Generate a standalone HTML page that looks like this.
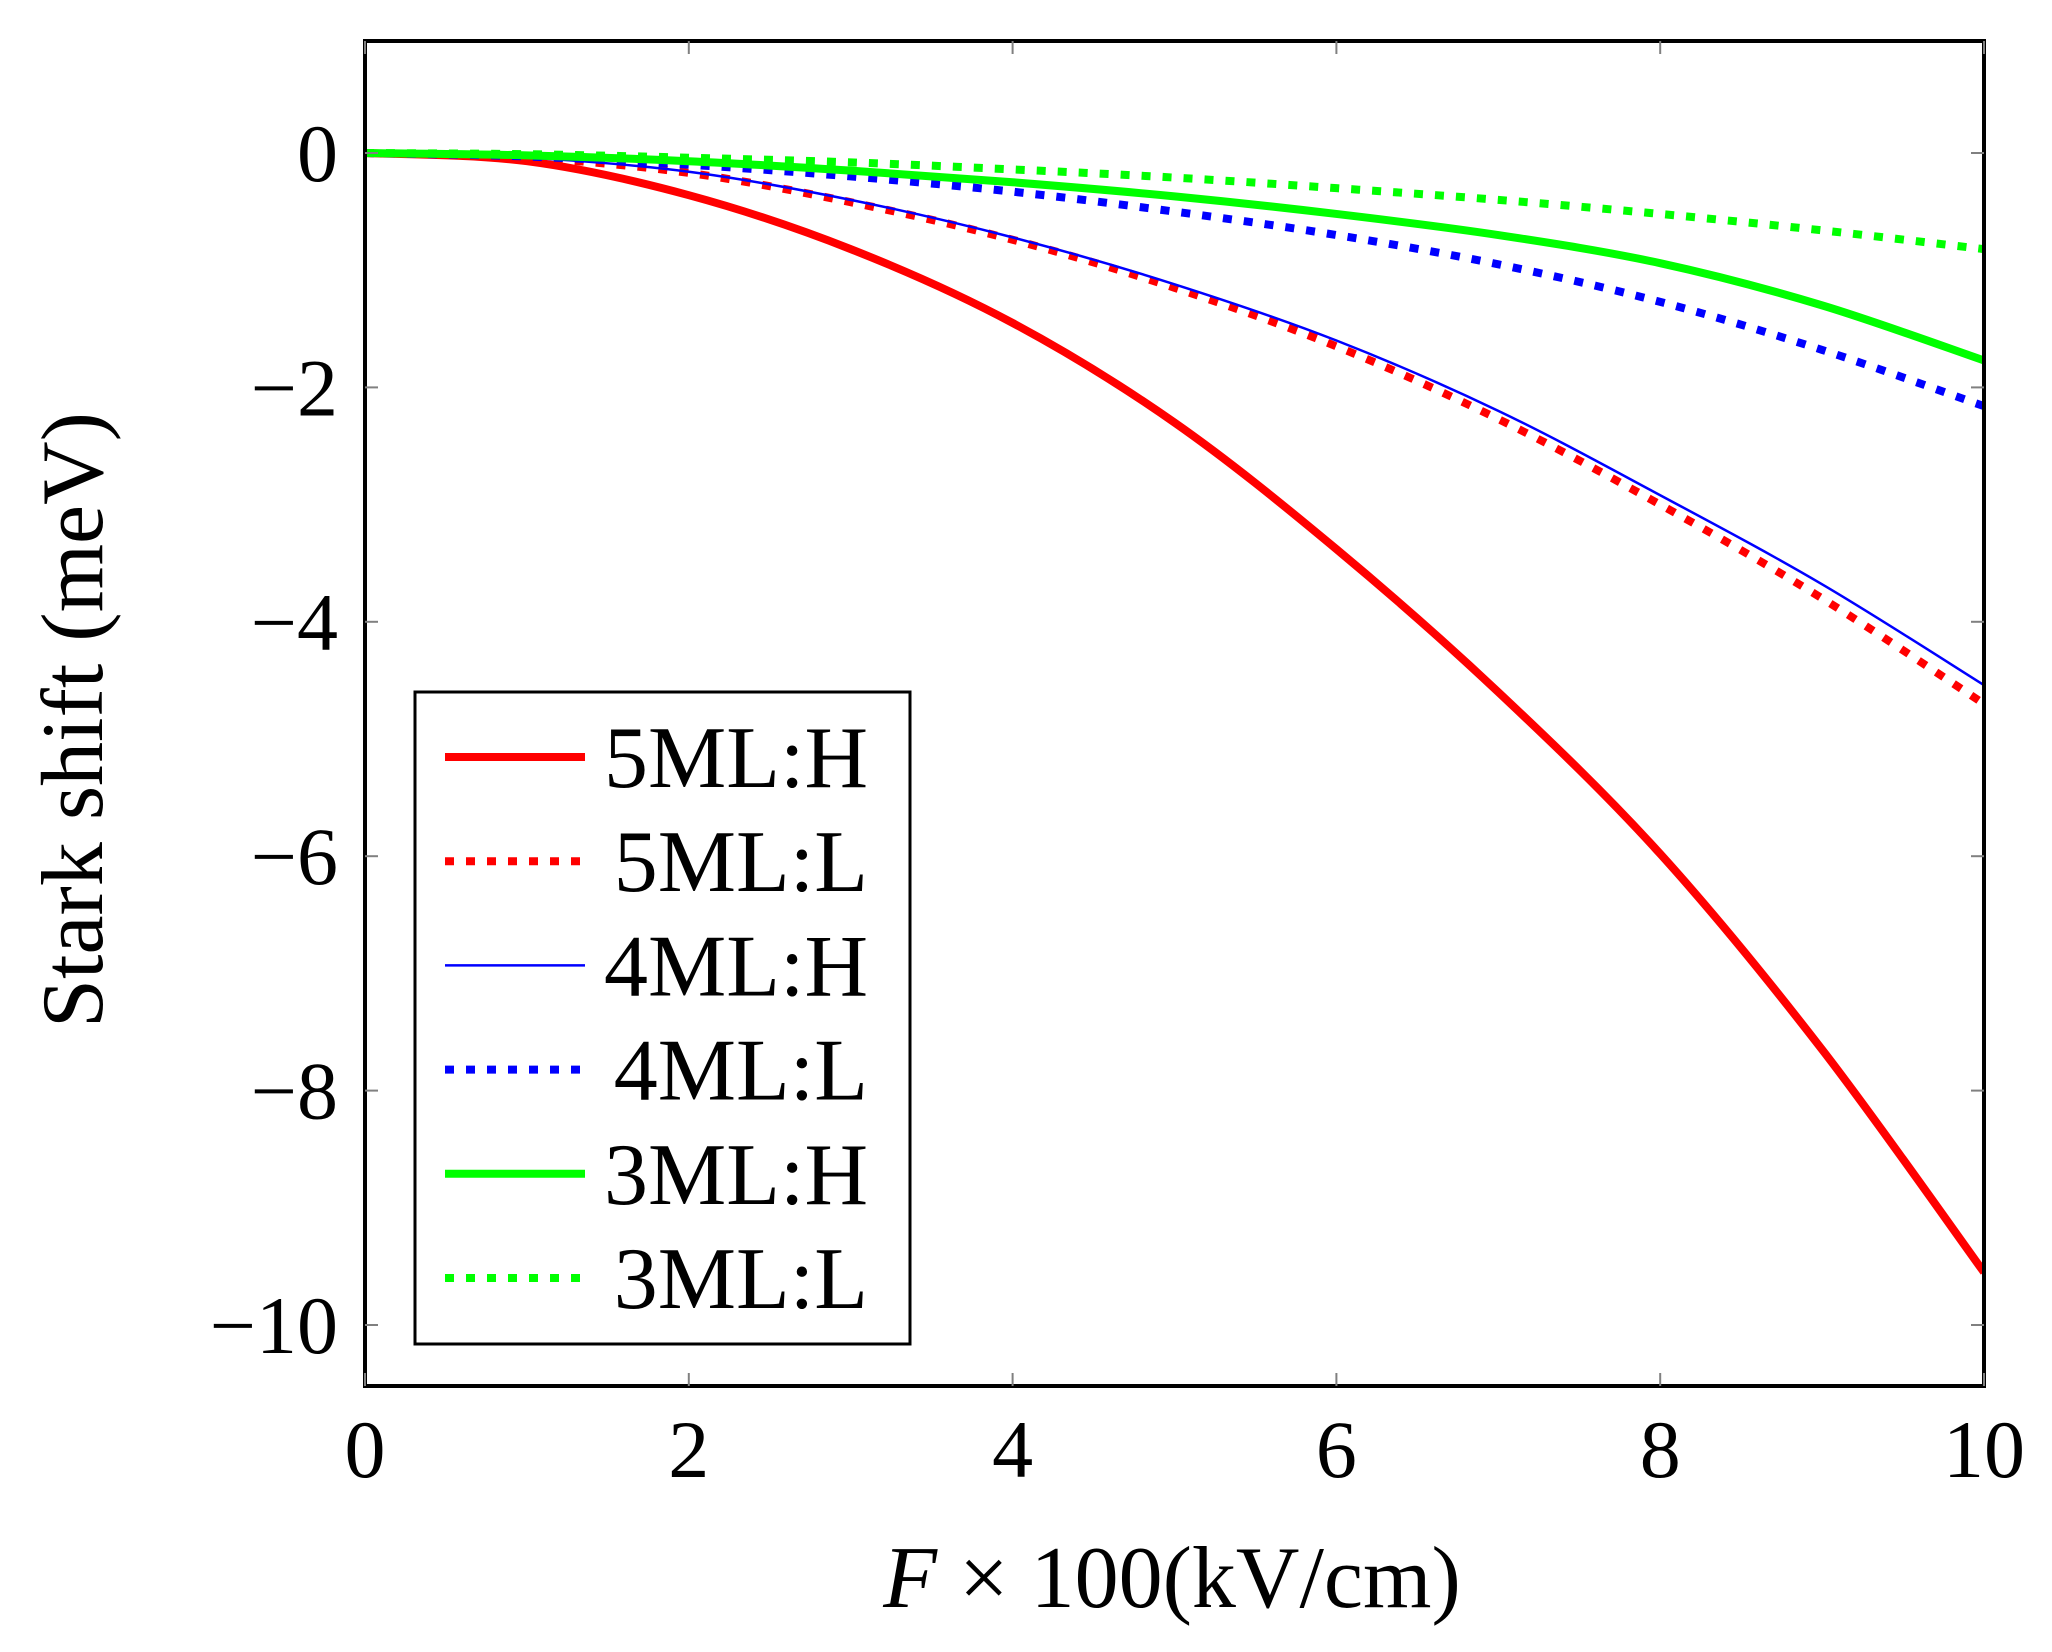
<!DOCTYPE html>
<html><head><meta charset="utf-8"><style>
html,body{margin:0;padding:0;background:#fff;}
svg text{font-family:"Liberation Serif",serif;fill:#000;}
</style></head><body>
<svg id="chart" width="2052" height="1647" viewBox="0 0 2052 1647" xmlns="http://www.w3.org/2000/svg">
<g id="series"></g>
<rect x="365" y="41" width="1619" height="1345" fill="none" stroke="#000" stroke-width="4"/>
<g id="ticks"></g>
<text x="1172" y="1607" font-size="88" text-anchor="middle"><tspan font-style="italic">F</tspan> × 100(kV/cm)</text>
<text transform="translate(102,720) rotate(-90)" font-size="88" text-anchor="middle">Stark shift (meV)</text>
<g id="legend"></g>
</svg>
<script>
const xs = [0,1,2,3,4,5,6,7,8,9,10];
const h5 = [0,-0.07,-0.36,-0.82,-1.45,-2.3,-3.38,-4.6,-5.98,-7.65,-9.55];
const l5 = [0,-0.04,-0.17,-0.42,-0.74,-1.15,-1.65,-2.27,-3.0,-3.8,-4.7];
const h4 = [0,-0.04,-0.16,-0.4,-0.72,-1.12,-1.6,-2.2,-2.92,-3.68,-4.54];
const l4 = [0,-0.03,-0.1,-0.2,-0.33,-0.5,-0.7,-0.95,-1.27,-1.68,-2.16];
const h3 = [0,-0.02,-0.07,-0.15,-0.25,-0.37,-0.52,-0.7,-0.94,-1.3,-1.77];
const l3 = [0,-0.01,-0.04,-0.08,-0.14,-0.21,-0.3,-0.4,-0.52,-0.66,-0.82];
const xTicks = [0,2,4,6,8,10];
const yTicks = [0,-2,-4,-6,-8,-10];
const labels = ["5ML:H","5ML:L","4ML:H","4ML:L","3ML:H","3ML:L"];

const NS="http://www.w3.org/2000/svg";
const X0=365,X1=1984,Y0=41,Y1=1386;
const sx=v=>X0+(v-0)/(10-0)*(X1-X0);
const sy=v=>153+(0-v)*117.2;
function mk(tag,attrs,parent){const e=document.createElementNS(NS,tag);for(const k in attrs)e.setAttribute(k,attrs[k]);parent.appendChild(e);return e;}
const styles=[
 {c:"#ff0000",w:8,d:null},
 {c:"#ff0000",w:8,d:"9 12"},
 {c:"#0000ff",w:2.5,d:null},
 {c:"#0000ff",w:8,d:"9 12"},
 {c:"#00ff00",w:8,d:null},
 {c:"#00ff00",w:8,d:"9 12"}];
const series=[h5,l5,h4,l4,h3,l3];
const ticksG=document.getElementById('ticks');
xTicks.forEach(t=>{
 const x=sx(t);
 let a=mk('line',{x1:x,x2:x,y1:Y1,y2:Y1-13,stroke:'#808080','stroke-width':2},ticksG);
 
 
 let b=mk('line',{x1:x,x2:x,y1:Y0,y2:Y0+13,stroke:'#808080','stroke-width':2},ticksG);
 
 
 let tx=mk('text',{x:x,y:1477,'font-size':82,'text-anchor':'middle'},ticksG);
 tx.textContent=String(t);
 
 
});
yTicks.forEach(t=>{
 const y=sy(t);
 let a=mk('line',{x1:X0,x2:X0+13,y1:y,y2:y,stroke:'#808080','stroke-width':2},ticksG);
 
 
 let b=mk('line',{x1:X1,x2:X1-13,y1:y,y2:y,stroke:'#808080','stroke-width':2},ticksG);
 
 
 let tx=mk('text',{x:338,y:y+28,'font-size':82,'text-anchor':'end'},ticksG);
 tx.textContent=t<0?('\u2212'+Math.abs(t)):String(t);
 
 
});
function smooth(pts){
 let d=`M${pts[0][0]},${pts[0][1]}`;
 for(let i=0;i<pts.length-1;i++){
  const p0=pts[Math.max(0,i-1)],p1=pts[i],p2=pts[i+1],p3=pts[Math.min(pts.length-1,i+2)];
  const c1=[p1[0]+(p2[0]-p0[0])/6,p1[1]+(p2[1]-p0[1])/6];
  const c2=[p2[0]-(p3[0]-p1[0])/6,p2[1]-(p3[1]-p1[1])/6];
  d+=` C${c1[0]},${c1[1]} ${c2[0]},${c2[1]} ${p2[0]},${p2[1]}`;
 }
 return d;
}
const sg=document.getElementById('series');
const clip=mk('clipPath',{id:'clipP'},mk('defs',{},sg));
mk('rect',{x:X0,y:Y0,width:X1-X0,height:Y1-Y0},clip);
series.forEach((s,i)=>{
 const pts=xs.map((x,j)=>[sx(x),sy(s[j])]);
 const st=styles[i];
 const p=mk('path',{d:smooth(pts),fill:'none',stroke:st.c,'stroke-width':st.w,'clip-path':'url(#clipP)'},sg);
 if(st.d)p.setAttribute('stroke-dasharray',st.d);
 
 
});
const lg=document.getElementById('legend');
const box=mk('rect',{x:415,y:692,width:495,height:652,fill:'#fff',stroke:'#000','stroke-width':3},lg);


labels.forEach((l,i)=>{
 const y=757+i*104.2;
 const st=styles[i];
 const ln=mk('line',{x1:445,x2:585,y1:y,y2:y,stroke:st.c,'stroke-width':st.w},lg);
 if(st.d)ln.setAttribute('stroke-dasharray',st.d);
 
 
 const t=mk('text',{x:868,y:y+30,'font-size':88,'text-anchor':'end'},lg);
 t.textContent=l;
 
 
});
</script>
</body></html>
